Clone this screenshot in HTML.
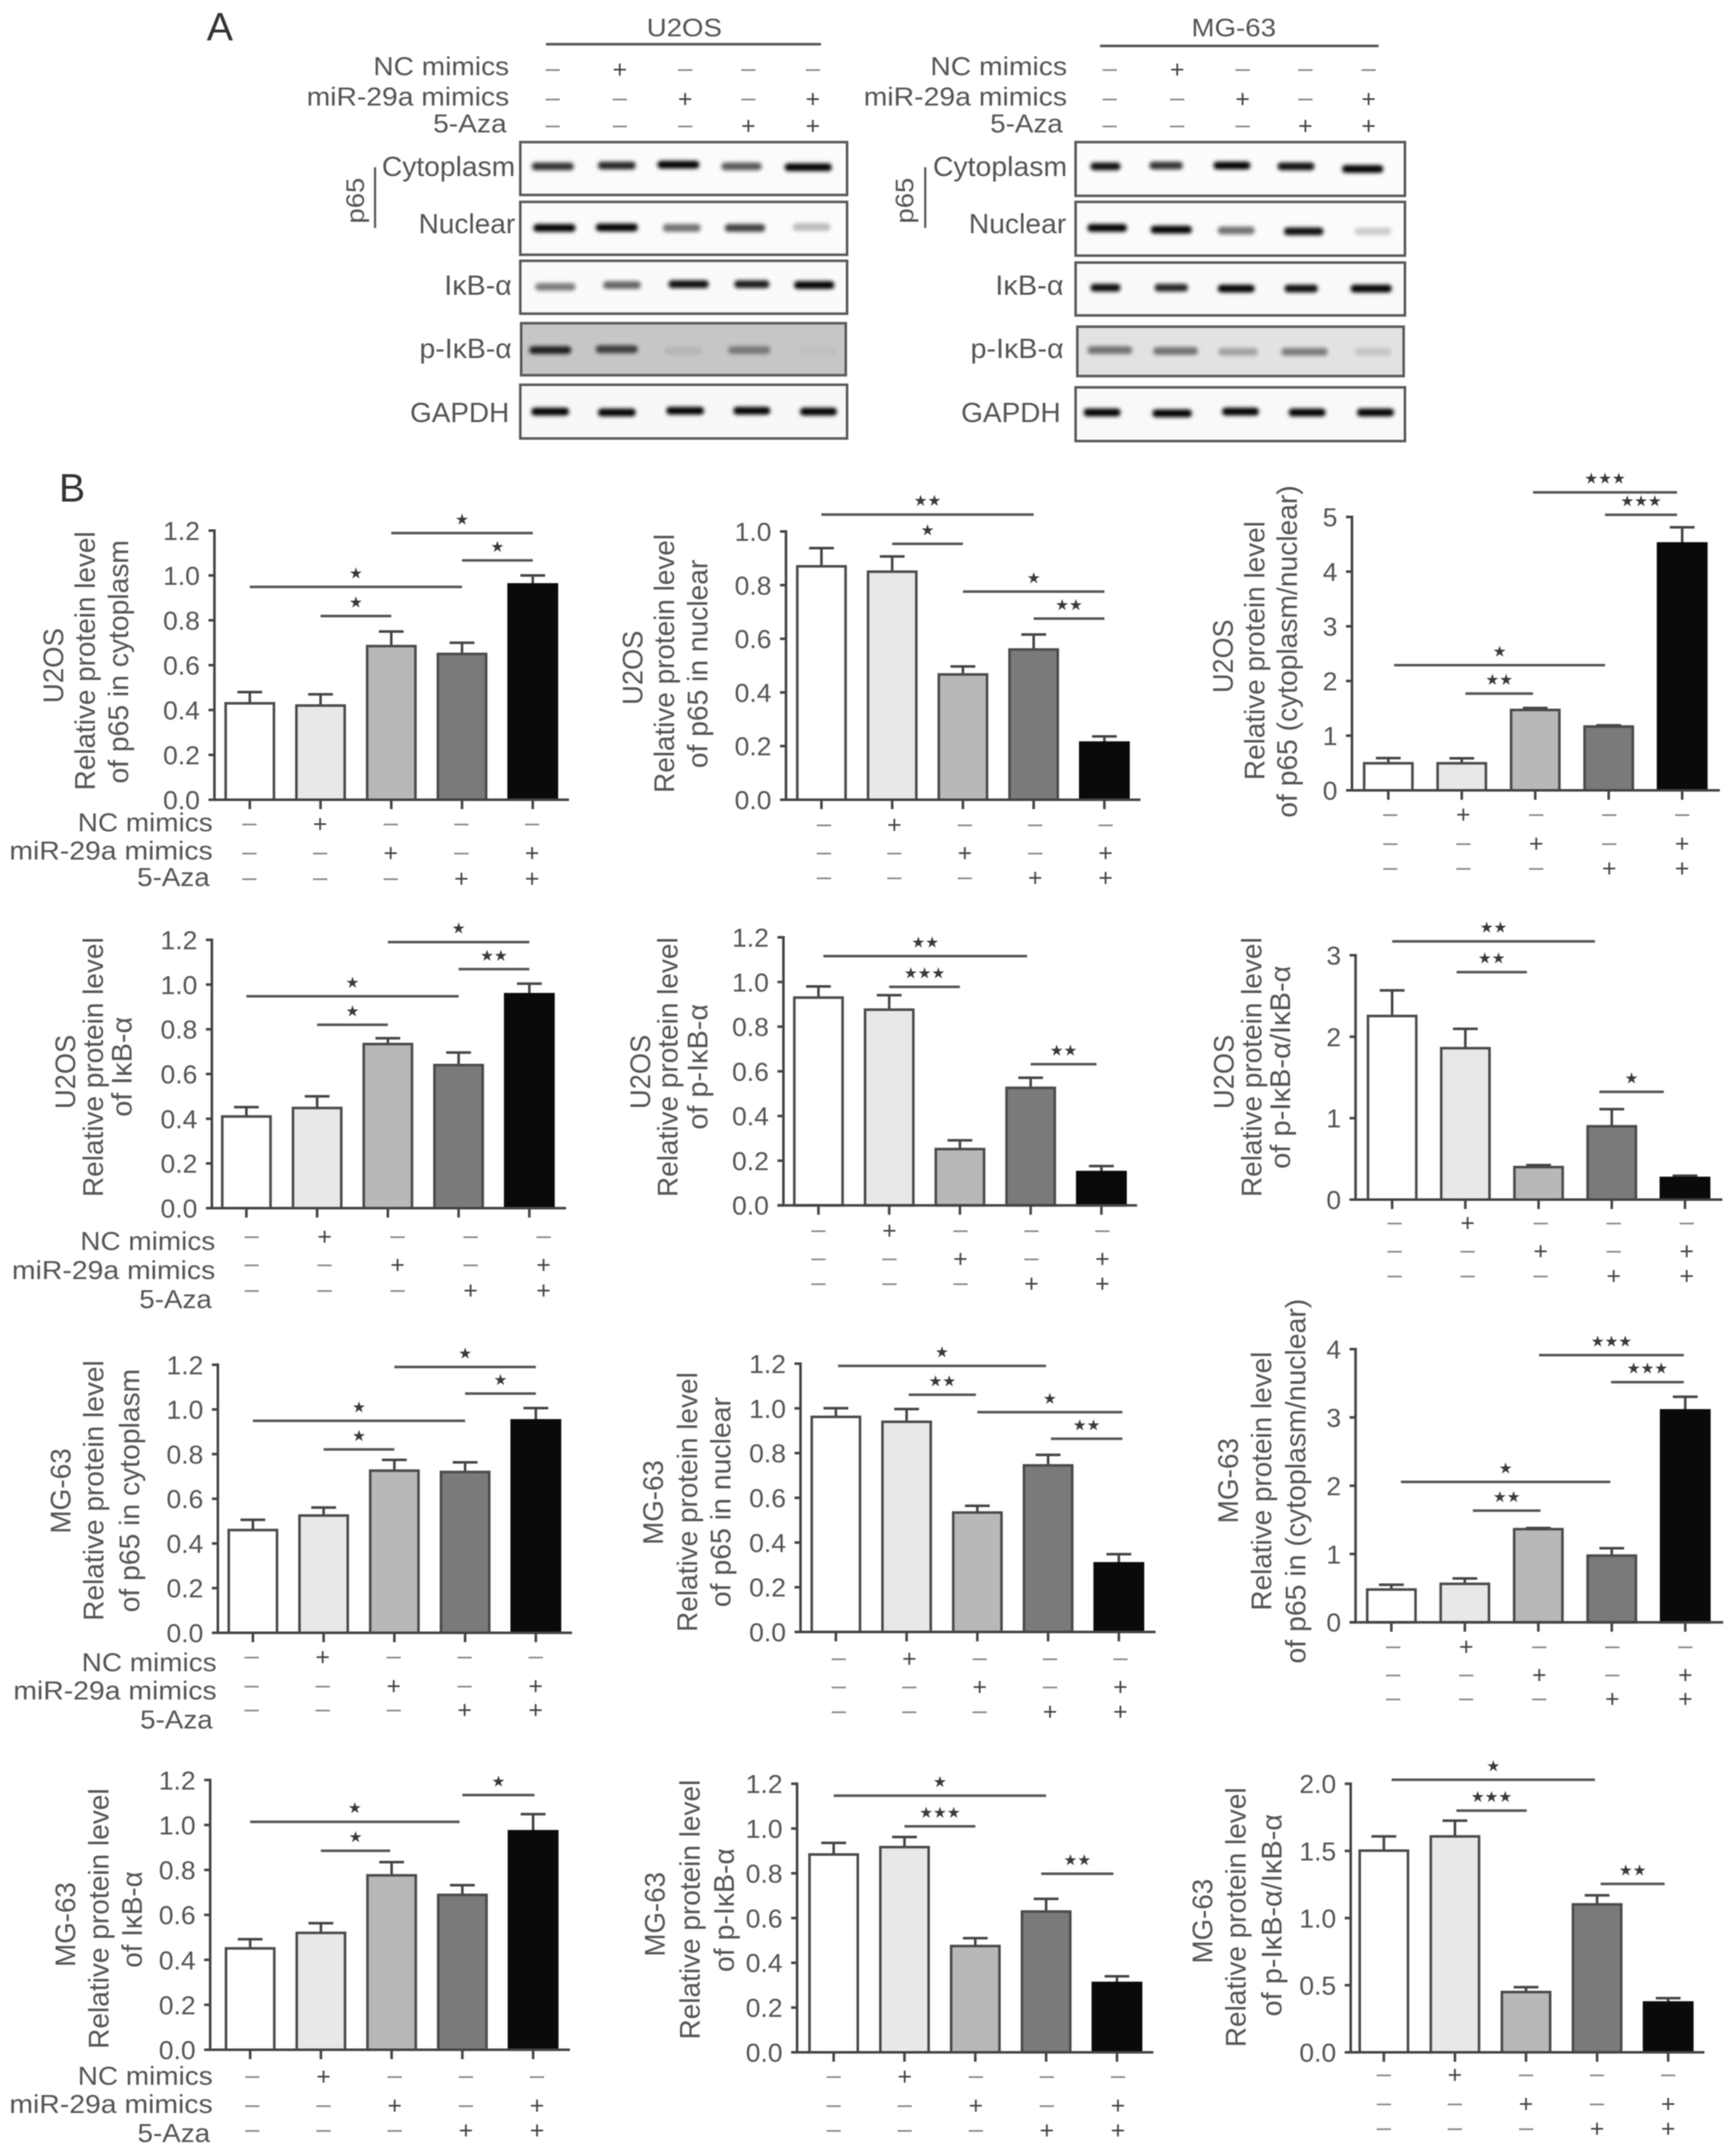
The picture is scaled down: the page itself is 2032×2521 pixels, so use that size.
<!DOCTYPE html>
<html lang="en">
<head>
<meta charset="utf-8">
<title>miR-29a western blots and protein level bar charts</title>
<style>
html,body{margin:0;padding:0;background:#fff;width:2032px;height:2521px;overflow:hidden}
svg{display:block;filter:blur(.6px)}
text{font-family:"Liberation Sans","DejaVu Sans",sans-serif;fill:#555}
.star{font-family:"DejaVu Sans",sans-serif;fill:#3a3a3a}
</style>
</head>
<body>
<svg id="figure" xmlns="http://www.w3.org/2000/svg" width="2032" height="2521" viewBox="0 0 2032 2521">
<defs><filter id="bandBlur" x="-30%" y="-150%" width="160%" height="400%"><feGaussianBlur stdDeviation="2.4"></feGaussianBlur></filter></defs>
<rect width="2032" height="2521" fill="#fff"></rect>
</svg>
<script>
/* ---------- chart data ---------- */
const treatmentLabels = ["NC mimics", "miR-29a mimics", "5-Aza"];
const ncRow  = ["-", "+", "-", "-", "-"];
const mirRow = ["-", "-", "+", "-", "+"];
const azaRow = ["-", "-", "-", "+", "+"];
const barColors = ["#ffffff", "#e8e8e8", "#b8b8b8", "#7a7a7a", "#0a0a0a"];

const ticksFine12 = ["0.0", "0.2", "0.4", "0.6", "0.8", "1.0", "1.2"];
const ticksFine10 = ["0.0", "0.2", "0.4", "0.6", "0.8", "1.0"];
const ticksInt5 = ["0", "1", "2", "3", "4", "5"];
const ticksInt4 = ["0", "1", "2", "3", "4"];
const ticksInt3 = ["0", "1", "2", "3"];
const ticksHalf2 = ["0.0", "0.5", "1.0", "1.5", "2.0"];

const u2osCytoValues = [0.43, 0.42, 0.685, 0.65, 0.96];
const u2osCytoTops   = [0.48, 0.47, 0.75, 0.70, 1.0];
const u2osCytoSig    = [[0, 3, 0.949, 1], [1, 2, 0.819, 1], [2, 4, 1.189, 1], [3, 4, 1.067, 1]];

const u2osNucValues = [0.87, 0.85, 0.467, 0.56, 0.213];
const u2osNucTops   = [0.938, 0.907, 0.497, 0.616, 0.236];
const u2osNucSig    = [[0, 3, 1.063, 2], [1, 2, 0.954, 1], [2, 4, 0.776, 1], [3, 4, 0.675, 2]];

const u2osRatioValues = [0.495, 0.495, 1.47, 1.167, 4.515];
const u2osRatioTops   = [0.59, 0.585, 1.505, 1.19, 4.81];
const u2osRatioSig    = [[0.08, 2.95, 2.29, 1], [1.05, 1.97, 1.77, 2], [1.97, 3.93, 5.45, 3], [2.95, 3.93, 5.04, 3]];

const u2osIkbValues = [0.41, 0.448, 0.734, 0.64, 0.957];
const u2osIkbTops   = [0.452, 0.50, 0.76, 0.696, 1.004];
const u2osIkbSig    = [[0, 3, 0.948, 1], [1, 2, 0.82, 1], [2, 4, 1.19, 1], [3, 4, 1.069, 2]];

const u2osPikbValues = [0.93, 0.876, 0.252, 0.526, 0.149];
const u2osPikbTops   = [0.98, 0.941, 0.291, 0.571, 0.176];
const u2osPikbSig    = [[0.07, 2.95, 1.116, 2], [1, 2, 0.978, 3], [3, 3.93, 0.632, 2]];

const u2osPikbRatioValues = [2.254, 1.859, 0.399, 0.9, 0.266];
const u2osPikbRatioTops   = [2.569, 2.097, 0.424, 1.11, 0.294];
const u2osPikbRatioSig    = [[0, 2.77, 3.171, 2], [0.88, 1.84, 2.793, 2], [2.83, 3.71, 1.323, 1]];

const mgCytoValues = [0.46, 0.525, 0.726, 0.72, 0.951];
const mgCytoTops   = [0.506, 0.561, 0.774, 0.763, 1.006];
const mgCytoSig    = [[0, 3, 0.949, 1], [1, 2, 0.821, 1], [2, 4, 1.19, 1], [3, 4, 1.071, 1]];

const mgNucValues = [0.962, 0.94, 0.534, 0.745, 0.307];
const mgNucTops   = [1.001, 0.997, 0.564, 0.792, 0.348];
const mgNucSig    = [[0.03, 2.97, 1.19, 1], [1.03, 1.98, 1.061, 2], [2, 4.05, 0.983, 1], [3.04, 4.05, 0.864, 2]];

const mgRatioValues = [0.48, 0.563, 1.364, 0.976, 3.103];
const mgRatioTops   = [0.55, 0.642, 1.38, 1.084, 3.303];
const mgRatioSig    = [[0.13, 2.98, 2.056, 1], [1.11, 2.03, 1.635, 2], [2.01, 3.98, 3.912, 3], [2.99, 3.98, 3.516, 3]];

const mgIkbValues = [0.451, 0.52, 0.776, 0.689, 0.972];
const mgIkbTops   = [0.492, 0.563, 0.835, 0.732, 1.048];
const mgIkbSig    = [[0, 2.96, 1.014, 1], [1, 1.98, 0.885, 1], [3, 4.02, 1.133, 1]];

const mgPikbValues = [0.884, 0.917, 0.475, 0.629, 0.31];
const mgPikbTops   = [0.936, 0.962, 0.51, 0.686, 0.34];
const mgPikbSig    = [[0, 3, 1.147, 1], [1, 2, 1.01, 3], [2.93, 3.95, 0.798, 2]];

const mgPikbRatioValues = [1.502, 1.608, 0.449, 1.102, 0.371];
const mgPikbRatioTops   = [1.608, 1.725, 0.485, 1.169, 0.403];
const mgPikbRatioSig    = [[0.11, 2.97, 2.03, 1], [1.02, 2.01, 1.80, 3], [3.05, 3.95, 1.254, 2]];

/* ---------- panel layout ---------- */
const REL = "Relative protein level";
const panels = [
 {id:"u2os-cytoplasm",values:u2osCytoValues,tops:u2osCytoTops,sig:u2osCytoSig,ticks:ticksFine12,ax:251,end:666,y0:936,yT:621,c0:292.4,dc:82.8,mx:292,mdx:82.7,rows:[964,998,1028],
  ylab:[["U2OS",74,735,823],[REL,111,622,925],["of p65 in cytoplasm",150,632,917]],cat:[[249,973,158],[249,1006,238],[245.5,1037,85]]},
 {id:"u2os-nuclear",values:u2osNucValues,tops:u2osNucTops,sig:u2osNucSig,ticks:ticksFine10,ax:920,end:1335,y0:936,yT:622,c0:961.5,dc:82.8,mx:964.5,mdx:82.4,rows:[965,998,1027],
  ylab:[["U2OS",752,738,825],[REL,789,625,928],["of p65 in nuclear",828,655,899]]},
 {id:"u2os-ratio",values:u2osRatioValues,tops:u2osRatioTops,sig:u2osRatioSig,ticks:ticksInt5,ax:1582.5,end:2013,y0:925,yT:605,c0:1625,dc:86,mx:1627.4,mdx:85.4,rows:[953,987,1016],
  ylab:[["U2OS",1443,725,811],[REL,1480,610,913],["of p65 (cytoplasm/nuclear)",1518,568,957]]},
 {id:"u2os-ikb",values:u2osIkbValues,tops:u2osIkbTops,sig:u2osIkbSig,ticks:ticksFine12,ax:248,end:662.5,y0:1414,yT:1100,c0:288.4,dc:82.8,mx:294.6,mdx:85.4,rows:[1447,1480,1510],
  ylab:[["U2OS",88,1211,1298],[REL,120.5,1097,1401],["of I\u03BAB-\u03B1",154,1190,1307]],cat:[[252,1463,158],[252,1497,238],[248,1531,85]]},
 {id:"u2os-p-ikb",values:u2osPikbValues,tops:u2osPikbTops,sig:u2osPikbSig,ticks:ticksFine12,ax:917,end:1331,y0:1410.7,yT:1097,c0:958,dc:82.8,mx:958,mdx:83.1,rows:[1440,1473,1502],
  ylab:[["U2OS",761,1211,1298],[REL,793,1097,1401],["of p-I\u03BAB-\u03B1",828,1175,1322]]},
 {id:"u2os-p-ikb-ratio",values:u2osPikbRatioValues,tops:u2osPikbRatioTops,sig:u2osPikbRatioSig,ticks:ticksInt3,ax:1586.7,end:2016,y0:1404,yT:1118,c0:1629.5,dc:85.7,mx:1632.4,mdx:85.5,rows:[1431,1464,1493],
  ylab:[["U2OS",1444,1211,1298],[REL,1476.5,1097,1401],["of p-I\u03BAB-\u03B1/I\u03BAB-\u03B1",1510,1130,1368]]},
 {id:"mg63-cytoplasm",values:mgCytoValues,tops:mgCytoTops,sig:mgCytoSig,ticks:ticksFine12,ax:255,end:669.6,y0:1911,yT:1597.3,c0:296,dc:82.8,mx:294.6,mdx:83.1,rows:[1939,1973,2001],
  ylab:[["MG-63",82.6,1695,1795],[REL,121,1592,1897],["of p65 in cytoplasm",163,1602,1887]],cat:[[253.6,1956,158],[253.6,1989,238],[249,2023,85]]},
 {id:"mg63-nuclear",values:mgNucValues,tops:mgNucTops,sig:mgNucSig,ticks:ticksFine12,ax:937,end:1352.6,y0:1910,yT:1596,c0:978.4,dc:82.8,mx:981.9,mdx:82.4,rows:[1941,1974,2003],
  ylab:[["MG-63",776,1709,1808],[REL,816,1606,1910],["of p65 in nuclear",855,1635,1881]]},
 {id:"mg63-ratio",values:mgRatioValues,tops:mgRatioTops,sig:mgRatioSig,ticks:ticksInt4,ax:1586.7,end:2017,y0:1898.7,yT:1579,c0:1628.6,dc:86,mx:1630.7,mdx:85.5,rows:[1927,1960,1988],
  ylab:[["MG-63",1449,1683,1783],[REL,1488,1582,1885],["of p65 in (cytoplasm/nuclear)",1528,1520,1947]]},
 {id:"mg63-ikb",values:mgIkbValues,tops:mgIkbTops,sig:mgIkbSig,ticks:ticksFine12,ax:246,end:667,y0:2399,yT:2083.3,c0:292.8,dc:82.8,mx:295.4,mdx:83.3,rows:[2430,2464,2493],
  ylab:[["MG-63",88,2203,2302],[REL,127,2093,2398],["of I\u03BAB-\u03B1",166,2190,2303]],cat:[[249,2440,158],[249,2473,238],[246,2507,85]]},
 {id:"mg63-p-ikb",values:mgPikbValues,tops:mgPikbTops,sig:mgPikbSig,ticks:ticksFine12,ax:933,end:1350,y0:2402,yT:2087.7,c0:975.8,dc:82.9,mx:975.8,mdx:83.2,rows:[2430,2464,2493],
  ylab:[["MG-63",778,2191,2290],[REL,819,2083,2387],["of p-I\u03BAB-\u03B1",859,2163,2308]]},
 {id:"mg63-p-ikb-ratio",values:mgPikbRatioValues,tops:mgPikbRatioTops,sig:mgPikbRatioSig,ticks:ticksHalf2,ax:1581,end:1995,y0:2402,yT:2087.7,c0:1619.8,dc:83.2,mx:1619.8,mdx:83.2,rows:[2428,2462,2491],
  ylab:[["MG-63",1419,2199,2298],[REL,1458,2092,2396],["of p-I\u03BAB-\u03B1/I\u03BAB-\u03B1",1500,2123,2360]]}
];

/* ---------- blot layout ---------- */
const BY = 1.0142;
const blots = [
 {id:"u2os",title:"U2OS",tx:757,tl:88,lx:[639,961,51],marks:[647,725.5,802,876,951.5],catX:[[596,87,159],[596,122,237],[593,153,86]],
  p65:[426,205,258,439],
  rows:[
   {name:"Cytoplasm",box:[609,164,991.5,225],bg:"#fbfbfb",label:[447,603,203],bands:[[647,49,192,.8],[722,44,191,.85],[794,49,190,1],[868,47,192,.65],[946,55,193,1]]},
   {name:"Nuclear",box:[609,233,991.5,294],bg:"#fbfbfb",label:[490,603,269],bands:[[649,49,263,1],[722,49,262.5,1],[798,44,263,.55],[872,47,263,.75],[950,44,262,.25]]},
   {name:"I\u03BAB-\u03B1",box:[609,301,991.5,362],bg:"#fafafa",label:[520,599,340],bands:[[650,47,331,.5],[728,44,329,.6],[806,47,328,.95],[880,41,328,.9],[953,47,329,1]]},
   {name:"p-I\u03BAB-\u03B1",box:[610,373,990,433],bg:"#c6c6c6",label:[491,599,413],bands:[[644,49,404,.85],[722,49,403,.7],[800,44,405,.08],[877,49,404,.4],[957,44,405,.03]]},
   {name:"GAPDH",box:[609,444,991.5,506],bg:"#f8f8f8",label:[480,596,487],bands:[[644,44,475,1],[722,44,476,1],[802,44,474,1],[880,43,474,1],[958,43,475,1]]}
  ]},
 {id:"mg63",title:"MG-63",tx:1394.6,tl:99,lx:[1287.5,1613.6,53],marks:[1299,1378,1454.5,1528,1602],catX:[[1249,87,160],[1249,122,238],[1244,153,85]],
  p65:[1069,205,258,1083],
  rows:[
   {name:"Cytoplasm",box:[1259,164,1644.5,226],bg:"#fcfcfc",label:[1092,1249,203],bands:[[1294,35,192,.95],[1365,39,191,.8],[1442,43,191,1],[1517,43,192,.95],[1595,48,195,1]]},
   {name:"Nuclear",box:[1259,233,1644.5,295],bg:"#fbfbfb",label:[1134,1248,269],bands:[[1296,46,263,1],[1371,48,265,1],[1447,43,266,.55],[1526,46,267,.95],[1607,43,267,.18]]},
   {name:"I\u03BAB-\u03B1",box:[1259,303,1644.5,364],bg:"#f9f9f9",label:[1165,1245,340],bands:[[1294,35,332,.95],[1371,39,332,.85],[1447,43,333,1],[1523,39,333,.95],[1605,48,333,1]]},
   {name:"p-I\u03BAB-\u03B1",box:[1261,377,1643,434],bg:"#e2e2e2",label:[1136,1245,413],bands:[[1299,52,404,.5],[1376,52,405,.5],[1449,46,406,.28],[1527,54,406,.45],[1607,43,406,.12]]},
   {name:"GAPDH",box:[1259,447,1644.5,509],bg:"#f9f9f9",label:[1125,1241.5,487],bands:[[1290,43,476,1],[1372,46,477,1],[1452,43,475,1],[1530,43,476,1],[1610,43,476,1]]}
  ]}
];

/* ---------- helpers ---------- */
const NS = "http://www.w3.org/2000/svg";
const root = document.getElementById("figure");
function shape(parent, tag, attrs) {
  const n = document.createElementNS(NS, tag);
  for (const k in attrs) n.setAttribute(k, attrs[k]);
  parent.appendChild(n);
  return n;
}
function addText(parent, str, attrs) {
  const n = shape(parent, "text", attrs);
  n.textContent = str;
  return n;
}
function addMark(parent, sym, x, rowY, name) {
  const fs = sym === "+" ? 29 : 30;
  const t = addText(parent, sym === "+" ? "+" : "\u2013", {
    x: x, y: rowY + (sym === "+" ? 0.345 : 0.28) * fs, "text-anchor": "middle", "font-size": fs,
    style: sym === "+" ? "fill:#444" : "fill:#8a8a8a"
  });
  
  
}

/* ---------- panel letters ---------- */
const letterA = addText(root, "A", {x: 242, y: 47.7, "font-size": 46, style: "fill:#333"});


const letterB = addText(root, "B", {x: 69, y: 587, "font-size": 46, style: "fill:#333"});



/* ---------- western blots ---------- */
blots.forEach(function (b) {
  const g = shape(root, "g", {});
  
  
  const title = addText(g, b.title, {x: b.tx, y: 42 * BY, "font-size": 30, textLength: b.tl, lengthAdjust: "spacingAndGlyphs"});
  
  
  const rule = shape(g, "line", {x1: b.lx[0], x2: b.lx[1], y1: b.lx[2] * BY, y2: b.lx[2] * BY, stroke: "#555", "stroke-width": 3});
  
  
  [[treatmentLabels[0], ncRow, 80], [treatmentLabels[1], mirRow, 114], [treatmentLabels[2], azaRow, 145]].forEach(function (r, i) {
    const lab = addText(g, r[0], {x: b.catX[i][0], y: b.catX[i][1] * BY, "text-anchor": "end", "font-size": 31, textLength: b.catX[i][2], lengthAdjust: "spacingAndGlyphs"});
    
    
    r[1].forEach(function (s, j) { addMark(g, s, b.marks[j], r[2] * BY, 'treatment-mark'); });
  });
  const pY = (b.p65[1] + b.p65[2]) / 2 * BY;
  const p65 = addText(g, "p65", {x: b.p65[0], y: pY, "text-anchor": "middle", "font-size": 30, textLength: (b.p65[2] - b.p65[1]) * BY, lengthAdjust: "spacingAndGlyphs", transform: "rotate(-90 " + b.p65[0] + " " + pY + ")"});
  
  
  const bracket = shape(g, "line", {x1: b.p65[3], x2: b.p65[3], y1: 193 * BY, y2: 263 * BY, stroke: "#555", "stroke-width": 2.5});
  
  
  b.rows.forEach(function (r) {
    const lab = addText(g, r.name, {x: r.label[1], y: r.label[2] * BY, "text-anchor": "end", "font-size": 32, textLength: r.label[1] - r.label[0], lengthAdjust: "spacingAndGlyphs"});
    
    
    const top = r.box[1] * BY;
    const hgt = (r.box[3] - r.box[1]) * BY;
    const box = shape(g, "rect", {x: r.box[0], y: top, width: r.box[2] - r.box[0], height: hgt, fill: r.bg});
    
    
    r.bands.forEach(function (d) {
      const band = shape(g, "rect", {x: d[0] - d[1] / 2, y: d[2] * BY - 4.5, width: d[1], height: 9, rx: 4, fill: "#000", opacity: d[3], filter: "url(#bandBlur)"});
      
      
    });
    const frame = shape(g, "rect", {x: r.box[0], y: top, width: r.box[2] - r.box[0], height: hgt, fill: "none", stroke: "#5a5a5a", "stroke-width": 3});
    
    
  });
});

/* ---------- bar charts ---------- */
panels.forEach(function (p) {
  const maxV = parseFloat(p.ticks[p.ticks.length - 1]);
  const yScale = function (v) { return p.y0 - v / maxV * (p.y0 - p.yT); };
  const xScale = function (i) { return p.c0 + i * p.dc; };
  const barW = 56.5;
  const g = shape(root, "g", {});
  
  

  p.ylab.forEach(function (l) {
    const yc = (l[2] + l[3]) / 2;
    const t = addText(g, l[0], {x: l[1], y: yc, "text-anchor": "middle", "font-size": 33, textLength: l[3] - l[2], lengthAdjust: "spacingAndGlyphs", transform: "rotate(-90 " + l[1] + " " + yc + ")"});
    
    
  });

  p.values.forEach(function (v, i) {
    const cx = xScale(i);
    const top = yScale(p.tops[i]);
    const stem = shape(g, "line", {x1: cx, x2: cx, y1: yScale(v), y2: top, stroke: "#444", "stroke-width": 3});
    
    
    const cap = shape(g, "line", {x1: cx - 14.5, x2: cx + 14.5, y1: top, y2: top, stroke: "#444", "stroke-width": 3});
    
    
    const bar = shape(g, "rect", {x: cx - barW / 2, y: yScale(v), width: barW, height: p.y0 - yScale(v), fill: barColors[i], stroke: i === 4 ? "#0a0a0a" : "#4a4a4a", "stroke-width": 3});
    
    
    const xt = shape(g, "line", {x1: cx, x2: cx, y1: p.y0, y2: p.y0 + 11, stroke: "#444", "stroke-width": 3});
    
    
  });

  const yAxis = shape(g, "line", {x1: p.ax, x2: p.ax, y1: p.yT - 1.5, y2: p.y0, stroke: "#444", "stroke-width": 3});
  
  
  const xAxis = shape(g, "line", {x1: p.ax - 7, x2: p.end, y1: p.y0, y2: p.y0, stroke: "#444", "stroke-width": 3});
  
  

  p.ticks.forEach(function (lbl) {
    const ty = yScale(parseFloat(lbl));
    const tk = shape(g, "line", {x1: p.ax - 7, x2: p.ax, y1: ty, y2: ty, stroke: "#444", "stroke-width": 3});
    
    
    const tl = addText(g, lbl, {x: p.ax - 17, y: ty + 11, "text-anchor": "end", "font-size": 31});
    
    
  });

  p.sig.forEach(function (s) {
    const ly = yScale(s[2]);
    const x1 = xScale(s[0]);
    const x2 = xScale(s[1]);
    const line = shape(g, "line", {x1: x1, x2: x2, y1: ly, y2: ly, stroke: "#555", "stroke-width": 3});
    
    
    const stars = addText(g, "\u2605".repeat(s[3]), {x: (x1 + x2) / 2, y: ly - 10, "text-anchor": "middle", "font-size": 18, class: "star"});
    
    
  });

  [ncRow, mirRow, azaRow].forEach(function (row, r) {
    row.forEach(function (s, j) { addMark(g, s, p.mx + j * p.mdx, p.rows[r], 'treatment-mark'); });
  });
  if (p.cat) {
    p.cat.forEach(function (c, i) {
      const t = addText(g, treatmentLabels[i], {x: c[0], y: c[1], "text-anchor": "end", "font-size": 31, textLength: c[2], lengthAdjust: "spacingAndGlyphs"});
      
      
    });
  }
});
</script>
</body>
</html>
